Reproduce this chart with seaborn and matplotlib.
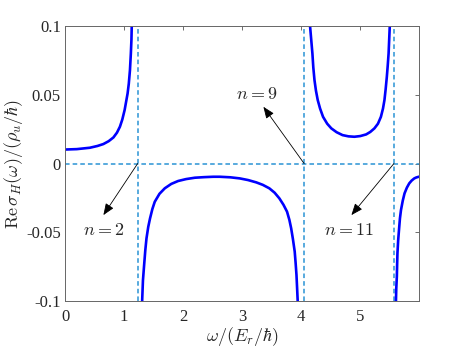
import numpy as np
import pandas as pd
import matplotlib
matplotlib.use("Agg")
import matplotlib.pyplot as plt
import seaborn as sns

# branches of Re sigma_H
b1_x = [0.00, 0.20, 0.42, 0.55, 0.65, 0.74, 0.82, 0.88, 0.93, 0.97, 1.01, 1.035,
        1.06, 1.08, 1.10, 1.115, 1.125, 1.13, 1.14]
b1_y = [0.0102, 0.0105, 0.0115, 0.0128, 0.0142, 0.0163, 0.019, 0.0225, 0.0268, 0.032,
        0.039, 0.045, 0.051, 0.058, 0.068, 0.080, 0.090, 0.0995, 0.11]

b2_x = [1.30, 1.307, 1.32, 1.34, 1.36, 1.38, 1.41, 1.44, 1.48, 1.52, 1.60, 1.69, 1.80,
        1.915, 2.05, 2.20, 2.35, 2.51, 2.62, 2.80, 2.96, 3.10, 3.24, 3.35, 3.46, 3.55,
        3.63, 3.70, 3.76, 3.80, 3.83, 3.86, 3.89, 3.905, 3.92, 3.93, 3.94, 3.945]
b2_y = [-0.11, -0.0993, -0.085, -0.0738, -0.063, -0.0544, -0.046, -0.0399, -0.033,
        -0.0278, -0.022, -0.018, -0.0148, -0.0127, -0.0113, -0.0103, -0.0099, -0.0096,
        -0.0096, -0.0100, -0.0108, -0.0120, -0.0137, -0.0155, -0.018, -0.0212, -0.0253,
        -0.030, -0.035, -0.041, -0.0471, -0.055, -0.064, -0.072, -0.081, -0.090,
        -0.0993, -0.11]

b3_x = [4.145, 4.15, 4.17, 4.19, 4.205, 4.225, 4.25, 4.28, 4.32, 4.37, 4.44, 4.51,
        4.60, 4.70, 4.80, 4.90, 5.00, 5.10, 5.17, 5.24, 5.30, 5.35, 5.385, 5.41, 5.43,
        5.45, 5.465, 5.48, 5.49, 5.50, 5.505]
b3_y = [0.11, 0.10, 0.090, 0.080, 0.070, 0.0607, 0.053, 0.0462, 0.040, 0.034, 0.029,
        0.0256, 0.0228, 0.0207, 0.0198, 0.0195, 0.0200, 0.0212, 0.0230, 0.0256, 0.029,
        0.034, 0.040, 0.0462, 0.054, 0.063, 0.071, 0.080, 0.090, 0.10, 0.11]

b4_x = [5.60, 5.605, 5.61, 5.62, 5.625, 5.63, 5.642, 5.656, 5.672, 5.69, 5.72, 5.75,
        5.79, 5.83, 5.87, 5.915, 5.95, 6.00]
b4_y = [-0.11, -0.0993, -0.091, -0.082, -0.073, -0.0653, -0.056, -0.0484, -0.040,
        -0.0338, -0.027, -0.0217, -0.0175, -0.0144, -0.0124, -0.0108, -0.0101, -0.0095]

# resonance positions (dashed lines)
res_x = [1.23, 4.05, 5.57]
labels = [r"$n=2$", r"$n=9$", r"$n=11$"]
arrow_tips = [(0.65, -0.0375), (3.36, 0.0413), (4.85, -0.0375)]
text_pos = [(0.65, -0.049), (3.25, 0.050), (4.81, -0.049)]

x_ticks = [0, 1, 2, 3, 4, 5]
y_ticks = [-0.1, -0.05, 0, 0.05, 0.1]
y_ticklabels = ["-0.1", "-0.05", "0", "0.05", "0.1"]

frames = []
for i, (bx, by) in enumerate([(b1_x, b1_y), (b2_x, b2_y), (b3_x, b3_y), (b4_x, b4_y)]):
    frames.append(pd.DataFrame({"w": bx, "s": by, "branch": i}))
df = pd.concat(frames, ignore_index=True)

sns.set_style("white")
plt.rcParams["font.family"] = ["Liberation Serif", "DejaVu Serif"]
plt.rcParams["mathtext.fontset"] = "cm"
plt.rcParams["lines.solid_joinstyle"] = "round"

fig = plt.figure(figsize=(4.63, 3.48), dpi=100)
ax = fig.add_axes([0.1404, 0.135, 0.7652, 0.790])

dash_col = "#2a93d5"
ax.axhline(0, color=dash_col, ls=(0, (3, 2)), lw=1.1, zorder=1)
for xr in res_x:
    ax.axvline(xr, color=dash_col, ls=(0, (3, 2)), lw=1.1, zorder=1)

for b, sub in df.groupby("branch"):
    sns.lineplot(data=sub, x="w", y="s", ax=ax, color="#0000ff", lw=1.9,
                 sort=False, estimator=None, legend=False, zorder=2)

for xr, lab, tip, tp in zip(res_x, labels, arrow_tips, text_pos):
    ax.annotate("", xy=tip, xytext=(xr, 0),
                arrowprops=dict(arrowstyle="-|>,head_length=0.7,head_width=0.28",
                                color="black", lw=0.6, shrinkA=0, shrinkB=0))
    ax.text(tp[0], tp[1], lab, ha="center", va="center", fontsize=13)

ax.set_xlim(0, 6)
ax.set_ylim(-0.1, 0.1)
ax.set_xticks(x_ticks)
ax.set_yticks(y_ticks)
ax.set_yticklabels(y_ticklabels)
ax.tick_params(direction="in", top=True, right=True, length=3, width=0.6,
               color="#555555", labelsize=12, pad=3)
ax.tick_params(axis="x", pad=6)
for sp in ax.spines.values():
    sp.set_color("#666666")
    sp.set_linewidth(0.7)

ax.set_xlabel(r"$\omega/(E_r/\hbar)$", fontsize=13, labelpad=0)
ax.set_ylabel(r"$\mathrm{Re}\,\sigma_H(\omega)/(\rho_u/\hbar)$", fontsize=13, labelpad=1)

fig.savefig("out.png", dpi=100)
